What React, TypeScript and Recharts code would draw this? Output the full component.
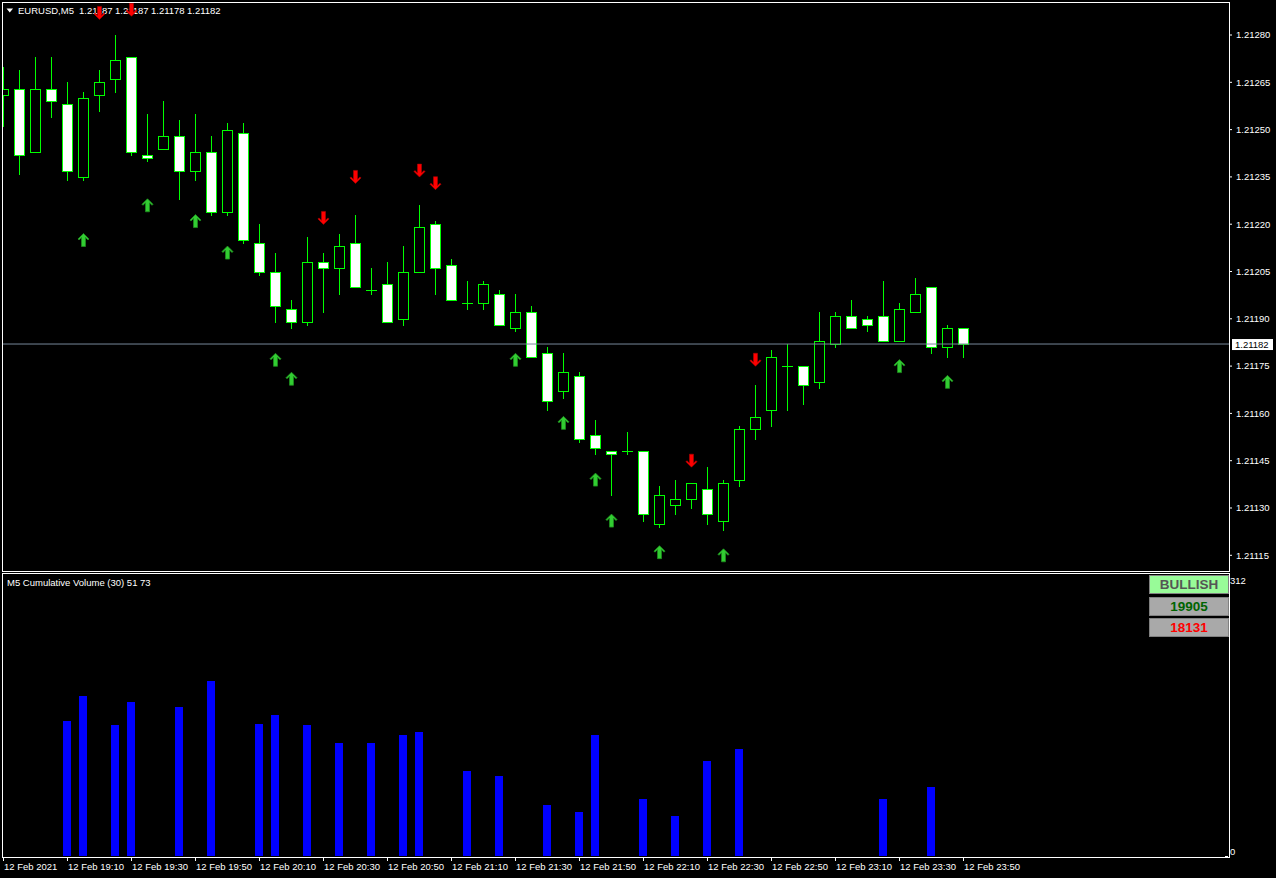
import React from "react";
import { ComposedChart, Bar, Scatter, XAxis, YAxis, ReferenceLine } from "recharts";

const FONT = "'Liberation Sans', Arial, sans-serif";
const LIME = "#00FF00";

// M5 candles, 12 Feb 2021 18:50 .. 23:50
const opens = [
  1.21261, 1.21263, 1.21243, 1.21263, 1.21258, 1.21235, 1.21261, 1.21266, 1.21273, 1.21242,
  1.21244, 1.21248, 1.21237, 1.21243, 1.21224, 1.21249, 1.21214, 1.21205, 1.21193, 1.21189,
  1.21208, 1.21206, 1.21214, 1.21199, 1.21201, 1.2119, 1.21205, 1.2122, 1.21207, 1.21195,
  1.21195, 1.21198, 1.21187, 1.21192, 1.21179, 1.21167, 1.21172, 1.21153, 1.21148, 1.21148,
  1.21148, 1.21125, 1.21131, 1.21133, 1.21136, 1.21126, 1.21139, 1.21155, 1.21161, 1.21175,
  1.21175, 1.2117, 1.21182, 1.21191, 1.2119, 1.21191, 1.21183, 1.21192, 1.212, 1.21181,
  1.21187,
];
const highs = [
  1.2127, 1.21269, 1.21273, 1.21273, 1.21265, 1.21262, 1.21269, 1.2128, 1.21273, 1.21255,
  1.21259, 1.21253, 1.21255, 1.21248, 1.21252, 1.21252, 1.2122, 1.21211, 1.21196, 1.21216,
  1.21211, 1.21217, 1.21223, 1.21206, 1.21208, 1.21213, 1.21226, 1.21221, 1.21209, 1.21202,
  1.21202, 1.21199, 1.21198, 1.21194, 1.21181, 1.21179, 1.21173, 1.21158, 1.21148, 1.21154,
  1.21148, 1.21137, 1.21139, 1.21138, 1.21143, 1.21139, 1.21156, 1.21169, 1.2118, 1.21182,
  1.21175, 1.21192, 1.21192, 1.21196, 1.21191, 1.21202, 1.21195, 1.21203, 1.212, 1.21188,
  1.21187,
];
const lows = [
  1.21251, 1.21236, 1.21243, 1.21254, 1.21234, 1.21234, 1.21256, 1.21262, 1.21242, 1.2124,
  1.21244, 1.21228, 1.21234, 1.21223, 1.21223, 1.21214, 1.21204, 1.21189, 1.21187, 1.21188,
  1.21192, 1.21198, 1.212, 1.21198, 1.21189, 1.21188, 1.21205, 1.21198, 1.21196, 1.21193,
  1.21193, 1.21188, 1.21186, 1.21178, 1.21161, 1.21165, 1.21151, 1.21147, 1.21134, 1.21147,
  1.21126, 1.21124, 1.21128, 1.2113, 1.21125, 1.21123, 1.21137, 1.21152, 1.21156, 1.21161,
  1.21163, 1.21168, 1.21181, 1.21187, 1.21186, 1.21183, 1.21183, 1.21192, 1.21179, 1.21178,
  1.21178,
];
const closes = [
  1.21263, 1.21242, 1.21263, 1.21259, 1.21237, 1.2126, 1.21265, 1.21272, 1.21243, 1.21241,
  1.21248, 1.21237, 1.21243, 1.21224, 1.2125, 1.21215, 1.21205, 1.21194, 1.21189, 1.21208,
  1.21206, 1.21213, 1.212, 1.21199, 1.21189, 1.21205, 1.21219, 1.21206, 1.21196, 1.21195,
  1.21201, 1.21188, 1.21192, 1.21178, 1.21164, 1.21173, 1.21152, 1.21149, 1.21147, 1.21148,
  1.21128, 1.21134, 1.21133, 1.21138, 1.21128, 1.21138, 1.21155, 1.21159, 1.21178, 1.21175,
  1.21169, 1.21183, 1.21191, 1.21187, 1.21188, 1.21183, 1.21193, 1.21198, 1.21181, 1.21187,
  1.21182,
];
const volumes: (number | null)[] = [
  null, null, null, null, 150, 178, null, 145, 171, null,
  null, 165, null, 194, null, null, 147, 157, null, 145,
  null, 125, null, 125, null, 134, 138, null, null, 94,
  null, 89, null, null, 57, null, 49, 134, null, null,
  63, null, 44, null, 106, null, 119, null, null, null,
  null, null, null, null, null, 63, null, null, 77, null,
  null,
];

const priceTicks = [
  1.21115, 1.2113, 1.21145, 1.2116, 1.21175, 1.2119, 1.21205, 1.2122, 1.21235, 1.2125,
  1.21265, 1.2128,
];
const timeTickIdx = [0, 4, 8, 12, 16, 20, 24, 28, 32, 36, 40, 44, 48, 52, 56, 60];
const timeTickLabels = [
  "12 Feb 2021", "12 Feb 19:10", "12 Feb 19:30", "12 Feb 19:50", "12 Feb 20:10",
  "12 Feb 20:30", "12 Feb 20:50", "12 Feb 21:10", "12 Feb 21:30", "12 Feb 21:50",
  "12 Feb 22:10", "12 Feb 22:30", "12 Feb 22:50", "12 Feb 23:10", "12 Feb 23:30",
  "12 Feb 23:50",
];

const upArrowIdx = [5, 9, 12, 14, 17, 18, 32, 35, 37, 38, 41, 45, 56, 59];
const upArrowPrice = [
  1.21215, 1.21226, 1.21221, 1.21211, 1.21177, 1.21171, 1.21177, 1.21157, 1.21139, 1.21126,
  1.21116, 1.21115, 1.21175, 1.2117,
];
const downArrowIdx = [6, 8, 20, 22, 26, 27, 43, 47];
const downArrowPrice = [1.21287, 1.21288, 1.21222, 1.21235, 1.21237, 1.21233, 1.21145, 1.21177];

const lastPrice = 1.21182;
const volTop = 312;
const bullTotal = 19905;
const bearTotal = 18131;

const candles = opens.map((o, i) => ({
  i,
  o,
  h: highs[i],
  l: lows[i],
  c: closes[i],
  range: [lows[i], highs[i]],
  v: volumes[i],
}));
const upArrows = upArrowIdx.map((i, k) => ({ i, p: upArrowPrice[k] }));
const downArrows = downArrowIdx.map((i, k) => ({ i, p: downArrowPrice[k] }));

const X_DOMAIN = [-0.09375, 76.594];

const Candle = (props: any) => {
  const { x, y, width, height, payload } = props;
  if (x == null || y == null || !payload) return null;
  const { o, h, l, c } = payload;
  const top = Math.min(y, y + height);
  const bottom = Math.max(y, y + height);
  const k = (bottom - top) / (h - l);
  const py = (p: number) => top + (h - p) * k;
  const col = Math.floor(x + width / 2 + 0.01) + 0.5;
  const bt = Math.round(Math.min(py(o), py(c))) + 0.5;
  const bb = Math.round(Math.max(py(o), py(c))) + 0.5;
  return (
    <g>
      <line x1={col} x2={col} y1={Math.round(top)} y2={Math.round(bottom) + 1} stroke={LIME} />
      {bb - bt < 1 ? (
        <line x1={col - 5.5} x2={col + 5.5} y1={bt} y2={bt} stroke={LIME} />
      ) : (
        <rect
          x={col - 5}
          y={bt}
          width={10}
          height={bb - bt}
          fill={c > o ? "#000000" : "#FFFFFF"}
          stroke={LIME}
        />
      )}
    </g>
  );
};

const UpArrow = (props: any) => {
  const { cx, cy } = props;
  if (cx == null || cy == null) return null;
  const d = `M${cx},${cy - 6.5} L${cx + 5.5},${cy - 1} L${cx + 4.5},${cy} L${cx + 2},${cy - 2.5} L${cx + 2},${cy + 6.5} L${cx - 2},${cy + 6.5} L${cx - 2},${cy - 2.5} L${cx - 4.5},${cy} L${cx - 5.5},${cy - 1} Z`;
  return <path d={d} fill="#32CD32" stroke="#1E8C1E" strokeWidth={0.8} />;
};

const DownArrow = (props: any) => {
  const { cx, cy } = props;
  if (cx == null || cy == null) return null;
  const d = `M${cx},${cy + 6.5} L${cx + 5.5},${cy + 1} L${cx + 4.5},${cy} L${cx + 2},${cy + 2.5} L${cx + 2},${cy - 6.5} L${cx - 2},${cy - 6.5} L${cx - 2},${cy + 2.5} L${cx - 4.5},${cy} L${cx - 5.5},${cy + 1} Z`;
  return <path d={d} fill="#FF0000" stroke="#B00000" strokeWidth={0.6} />;
};

const PriceTag = (props: any) => {
  const vb = props.viewBox || {};
  const x = (vb.x ?? 0) + (vb.width ?? 0) + 3;
  const y = vb.y ?? 0;
  return (
    <g>
      <rect x={x} y={y - 5} width={41} height={11} fill="#FFFFFF" />
      <text x={x + 3} y={y + 3.5} fill="#000000" fontSize={9.5} fontFamily={FONT}>
        {lastPrice.toFixed(5)}
      </text>
    </g>
  );
};

const VolBar = (props: any) => {
  const { x, y, width, height } = props;
  if (x == null || y == null || !height) return null;
  const col = Math.floor(x + width / 2 + 0.01);
  const top = Math.round(Math.min(y, y + height));
  const bottom = Math.round(Math.max(y, y + height));
  return <rect x={col - 4} y={top} width={8} height={bottom - top} fill="#0000FF" />;
};

const VolTick = (props: any) => {
  const { x, y, payload } = props;
  const dy = payload.value === 0 ? -1.5 : 9;
  return (
    <g>
      <line x1={x - 4} x2={x - 1} y1={y + 0.5} y2={y + 0.5} stroke="#FFFFFF" />
      <text x={x + 1} y={y + dy} fill="#FFFFFF" fontSize={9.5} fontFamily={FONT}>
        {payload.value}
      </text>
    </g>
  );
};

const TimeTick = (props: any) => {
  const { x, y, payload } = props;
  const k = timeTickIdx.indexOf(payload.value);
  const px = Math.floor(x + 0.01) + 0.5;
  return (
    <g>
      <line x1={px} x2={px} y1={y + 1} y2={y + 5} stroke="#FFFFFF" />
      <text x={px + 0.5} y={y + 13.5} fill="#FFFFFF" fontSize={9.5} fontFamily={FONT}>
        {k >= 0 ? timeTickLabels[k] : ""}
      </text>
    </g>
  );
};

const boxStyle = (top: number, bg: string, color: string): React.CSSProperties => ({
  position: "absolute",
  left: 1149,
  top,
  width: 80,
  height: 19,
  boxSizing: "border-box",
  background: bg,
  border: "1px solid #808080",
  color,
  font: `bold 13.5px ${FONT}`,
  lineHeight: "17px",
  textAlign: "center",
});

const titlePrices = [opens[60], highs[60], lows[60], closes[60]];

export default function App() {
  return (
    <div
      style={{
        position: "absolute",
        left: 0,
        top: 0,
        width: 1276,
        height: 878,
        background: "#000000",
        overflow: "hidden",
        fontFamily: FONT,
      }}
    >
      {/* chart title */}
      <svg style={{ position: "absolute", left: 0, top: 0 }} width={20} height={20}>
        <path d="M6.5,8.5 L13,8.5 L9.75,12.5 Z" fill="#FFFFFF" />
      </svg>
      <div style={{ position: "absolute", left: 18, top: 4, color: "#fff", fontSize: 9.5, lineHeight: "13px" }}>
        EURUSD,M5
      </div>
      {titlePrices.map((p, k) => (
        <div
          key={k}
          style={{ position: "absolute", left: 79 + 36 * k, top: 4, color: "#fff", fontSize: 9.5, lineHeight: "13px" }}
        >
          {p.toFixed(5)}
        </div>
      ))}

      <div style={{ position: "absolute", left: 0, top: 0 }}>
        <ComposedChart
          width={1276}
          height={571}
          data={candles}
          margin={{ top: 2, right: 0, bottom: 0, left: 2 }}
        >
          <XAxis dataKey="i" type="number" domain={X_DOMAIN} allowDataOverflow hide />
          <YAxis
            yAxisId="p"
            orientation="right"
            type="number"
            domain={[1.2111002, 1.2129047]}
            allowDataOverflow
            ticks={priceTicks}
            interval={0}
            width={47}
            axisLine={false}
            tickSize={3}
            tickMargin={4}
            tickLine={{ stroke: "#FFFFFF" }}
            tick={{ fill: "#FFFFFF", fontSize: 9.5, fontFamily: FONT }}
            tickFormatter={(v: number) => v.toFixed(5)}
          />
          <ReferenceLine
            yAxisId="p"
            y={lastPrice}
            stroke="#778899"
            label={(p: any) => <PriceTag {...p} />}
          />
          <Bar yAxisId="p" dataKey="range" barSize={11} shape={<Candle />} isAnimationActive={false} />
          <Scatter yAxisId="p" data={upArrows} dataKey="p" shape={<UpArrow />} isAnimationActive={false} />
          <Scatter yAxisId="p" data={downArrows} dataKey="p" shape={<DownArrow />} isAnimationActive={false} />
        </ComposedChart>
      </div>

      {/* volume sub-window */}
      <div style={{ position: "absolute", left: 7, top: 576, color: "#fff", fontSize: 9.5, lineHeight: "13px" }}>
        M5 Cumulative Volume (30) 51 73
      </div>
      <div style={{ position: "absolute", left: 0, top: 573 }}>
        <ComposedChart
          width={1276}
          height={305}
          data={candles}
          margin={{ top: 2, right: 0, bottom: 0, left: 2 }}
        >
          <XAxis
            dataKey="i"
            type="number"
            domain={X_DOMAIN}
            allowDataOverflow
            ticks={timeTickIdx}
            interval={0}
            height={22}
            axisLine={false}
            tickLine={false}
            tickSize={0}
            tickMargin={0}
            tick={<TimeTick />}
          />
          <YAxis
            orientation="right"
            type="number"
            domain={[0, volTop]}
            allowDataOverflow
            ticks={[0, volTop]}
            interval={0}
            width={47}
            axisLine={false}
            tickLine={false}
            tickSize={0}
            tickMargin={0}
            tick={<VolTick />}
          />
          <Bar dataKey="v" barSize={8} fill="#0000FF" shape={<VolBar />} isAnimationActive={false} />
        </ComposedChart>
      </div>

      {/* panel frames */}
      <div
        style={{
          position: "absolute",
          left: 2,
          top: 2,
          width: 1228,
          height: 570,
          boxSizing: "border-box",
          border: "1px solid #FFFFFF",
          pointerEvents: "none",
        }}
      />
      <div
        style={{
          position: "absolute",
          left: 2,
          top: 573,
          width: 1228,
          height: 285,
          boxSizing: "border-box",
          border: "1px solid #FFFFFF",
          pointerEvents: "none",
        }}
      />

      {/* signal boxes */}
      <div style={boxStyle(575, "#98FB98", "#555555")}>BULLISH</div>
      <div style={boxStyle(597, "#A9A9A9", "#006400")}>{bullTotal}</div>
      <div style={boxStyle(618, "#A9A9A9", "#FF0000")}>{bearTotal}</div>
    </div>
  );
}
